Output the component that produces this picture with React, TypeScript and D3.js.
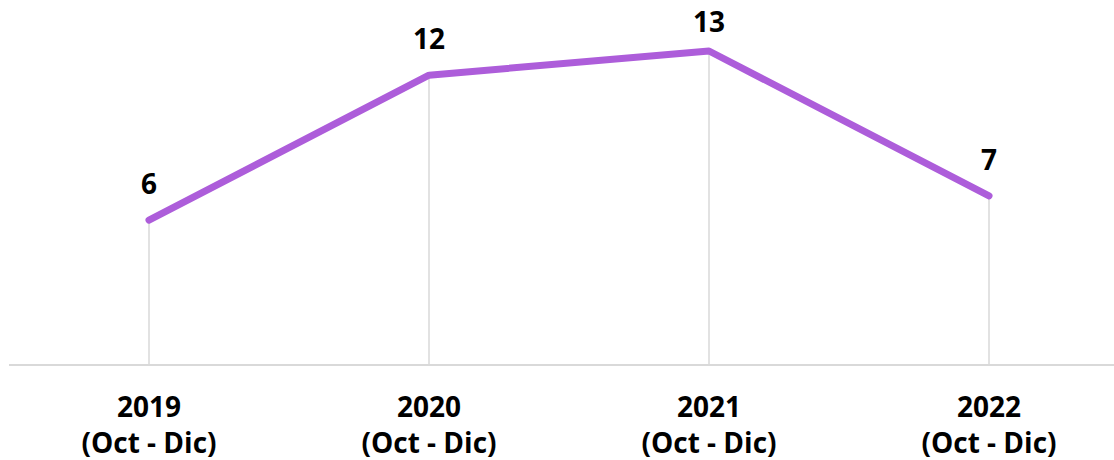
import React, { useEffect, useRef } from 'react';
import * as d3 from 'd3';

const years = ['2019', '2020', '2021', '2022'];
const periods = ['(Oct - Dic)', '(Oct - Dic)', '(Oct - Dic)', '(Oct - Dic)'];
const values = [6, 12, 13, 7];

const W = 1114;
const H = 460;

export default function App() {
  const svgRef = useRef<SVGSVGElement>(null);

  useEffect(() => {
    const svg = d3.select(svgRef.current);
    svg.selectAll('*').remove();

    const x = d3.scaleBand().domain(years).range([9, 1129]);
    const y = d3.scaleLinear().domain([0, 13]).range([365, 51]);
    const cx = (d: string) => (x(d) as number) + x.bandwidth() / 2;
    const font = '"Open Sans", Lato, sans-serif';

    // baseline
    svg.append('line')
      .attr('x1', 9).attr('x2', W)
      .attr('y1', y(0)).attr('y2', y(0))
      .attr('stroke', '#d9d9d9').attr('stroke-width', 2);

    // drop lines
    svg.selectAll('line.drop')
      .data(values)
      .join('line')
      .attr('class', 'drop')
      .attr('x1', (d, i) => cx(years[i])).attr('x2', (d, i) => cx(years[i]))
      .attr('y1', d => y(d)).attr('y2', y(0))
      .attr('stroke', '#d9d9d9').attr('stroke-width', 1.5);

    const line = d3.line<number>()
      .x((d, i) => cx(years[i]))
      .y(d => y(d));

    svg.append('path')
      .datum(values)
      .attr('fill', 'none')
      .attr('stroke', '#AD5DDA')
      .attr('stroke-width', 7)
      .attr('stroke-linecap', 'round')
      .attr('stroke-linejoin', 'round')
      .attr('d', line);

    // data labels (kept inside the top of the plot, like the original)
    svg.selectAll('text.val')
      .data(values)
      .join('text')
      .attr('class', 'val')
      .attr('x', (d, i) => cx(years[i]))
      .attr('y', d => Math.max(y(d) - 26, 32))
      .attr('text-anchor', 'middle')
      .attr('font-family', font)
      .attr('font-weight', 'bold')
      .attr('font-size', 28)
      .attr('fill', '#000')
      .text(d => d);

    // category labels
    const g = svg.selectAll('g.cat')
      .data(years)
      .join('g')
      .attr('class', 'cat')
      .attr('transform', d => `translate(${cx(d)},0)`);
    g.append('text')
      .attr('y', 417)
      .attr('text-anchor', 'middle')
      .attr('font-family', font)
      .attr('font-weight', 'bold')
      .attr('font-size', 28)
      .text(d => d);
    g.append('text')
      .attr('y', 453)
      .attr('text-anchor', 'middle')
      .attr('font-family', font)
      .attr('font-weight', 'bold')
      .attr('font-size', 28)
      .text((d, i) => periods[i]);
  }, []);

  return (
    <svg
      ref={svgRef}
      width={W}
      height={H}
      style={{ position: 'absolute', left: 0, top: 0, background: '#fff' }}
    />
  );
}
